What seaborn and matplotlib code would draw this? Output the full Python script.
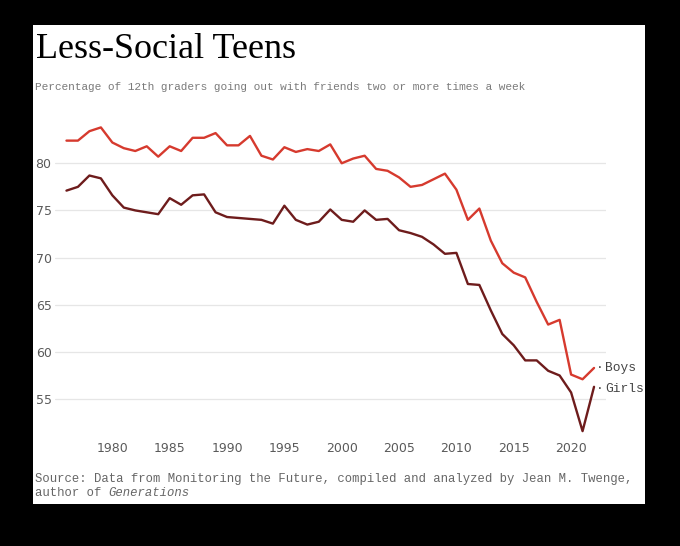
import numpy as np
import pandas as pd
import matplotlib
matplotlib.use("Agg")
import matplotlib.pyplot as plt
from matplotlib.patches import Rectangle
from matplotlib.text import Annotation
import seaborn as sns

years = list(range(1976, 2023))
boys = [82.4, 82.4, 83.4, 83.8, 82.2, 81.6, 81.3, 81.8, 80.7, 81.8,
        81.3, 82.7, 82.7, 83.2, 81.9, 81.9, 82.9, 80.8, 80.4, 81.7,
        81.2, 81.5, 81.3, 82.0, 80.0, 80.5, 80.8, 79.4, 79.2, 78.5,
        77.5, 77.7, 78.3, 78.9, 77.2, 74.0, 75.2, 71.8, 69.4, 68.4,
        67.9, 65.3, 62.9, 63.4, 57.6, 57.1, 58.3]
girls = [77.1, 77.5, 78.7, 78.4, 76.6, 75.3, 75.0, 74.8, 74.6, 76.3,
         75.6, 76.6, 76.7, 74.8, 74.3, 74.2, 74.1, 74.0, 73.6, 75.5,
         74.0, 73.5, 73.8, 75.1, 74.0, 73.8, 75.0, 74.0, 74.1, 72.9,
         72.6, 72.2, 71.4, 70.4, 70.5, 67.2, 67.1, 64.4, 61.9, 60.7,
         59.1, 59.1, 58.0, 57.5, 55.7, 51.6, 56.3]
series_names = ["Boys", "Girls"]
x_ticks = [1980, 1985, 1990, 1995, 2000, 2005, 2010, 2015, 2020]
y_ticks = [55, 60, 65, 70, 75, 80]

title = "Less-Social Teens"
subtitle = "Percentage of 12th graders going out with friends two or more times a week"
source1 = "Source: Data from Monitoring the Future, compiled and analyzed by Jean M. Twenge,"
source2a = "author of"
source2b = "Generations"

df = pd.DataFrame({
    "year": years * 2,
    "value": boys + girls,
    "sex": [series_names[0]] * len(years) + [series_names[1]] * len(years),
})

sns.set_theme(style="white")
plt.rcParams["font.family"] = ["DejaVu Sans"]

W, H = 680, 546
fig = plt.figure(figsize=(W / 100, H / 100), dpi=100, facecolor="black")

# white card
card = Rectangle((33 / W, 1 - 504 / H), 612 / W, 479 / H,
                 transform=fig.transFigure, facecolor="white",
                 edgecolor="none", zorder=-10)
fig.add_artist(card)

ax_left, ax_right = 55, 605.5
ax_top, ax_bottom = 116.1, 436.8
ax = fig.add_axes([ax_left / W, 1 - ax_bottom / H,
                   (ax_right - ax_left) / W, (ax_bottom - ax_top) / H])
ax.set_facecolor("none")
ax.set_zorder(1)

palette = {"Boys": "#d63a2e", "Girls": "#6e1c1c"}
sns.lineplot(data=df, x="year", y="value", hue="sex", palette=palette,
             linewidth=1.7, ax=ax, legend=False)

ax.set_xlim(1975, 2023)
ax.set_ylim(51, 85)
ax.set_xticks(x_ticks)
ax.set_yticks(y_ticks)
ax.set_xlabel("")
ax.set_ylabel("")
for s in ax.spines.values():
    s.set_visible(False)
ax.grid(axis="y", color="#e6e6e6", linewidth=0.9)
ax.grid(axis="x", visible=False)
ax.set_axisbelow(True)
ax.tick_params(axis="both", length=0, labelsize=9, colors="#5a5a5a")
ax.tick_params(axis="y", pad=2.5)
ax.tick_params(axis="x", pad=3.5)

# end labels
mono = "Liberation Mono"
for name, vals, dy in [(series_names[0], boys, 0), (series_names[1], girls, -1.8)]:
    ax.annotate("\u00b7", xy=(years[-1], vals[-1]), xytext=(1.3, dy),
                textcoords="offset points", va="center", ha="left",
                fontsize=9.3, family=mono, color="#444444", annotation_clip=False)
    ax.annotate(name, xy=(years[-1], vals[-1]), xytext=(8, dy),
                textcoords="offset points", va="center", ha="left",
                fontsize=9.3, family=mono, color="#444444", annotation_clip=False)

# titles
fig.text(36 / W, 1 - 58 / H, title, fontsize=26, family="Liberation Serif",
         color="#000000", ha="left", va="baseline")
fig.text(35 / W, 1 - 87 / H, subtitle, fontsize=8.0, family=mono,
         color="#7a7a7a", ha="left", va="center")

# source
fig.text(35 / W, 1 - 479 / H, source1, fontsize=8.85, family=mono,
         color="#666666", ha="left", va="center")
t2 = fig.text(35 / W, 1 - 492.7 / H, source2a, fontsize=8.85, family=mono,
              color="#666666", ha="left", va="center")
a = Annotation(source2b, xy=(1, 0.5), xycoords=t2, xytext=(5.3, 0),
               textcoords="offset points", va="center", ha="left",
               fontsize=8.85, family=mono, style="italic", color="#666666")
fig.add_artist(a)

fig.savefig("out.png", dpi=100, facecolor=fig.get_facecolor())
